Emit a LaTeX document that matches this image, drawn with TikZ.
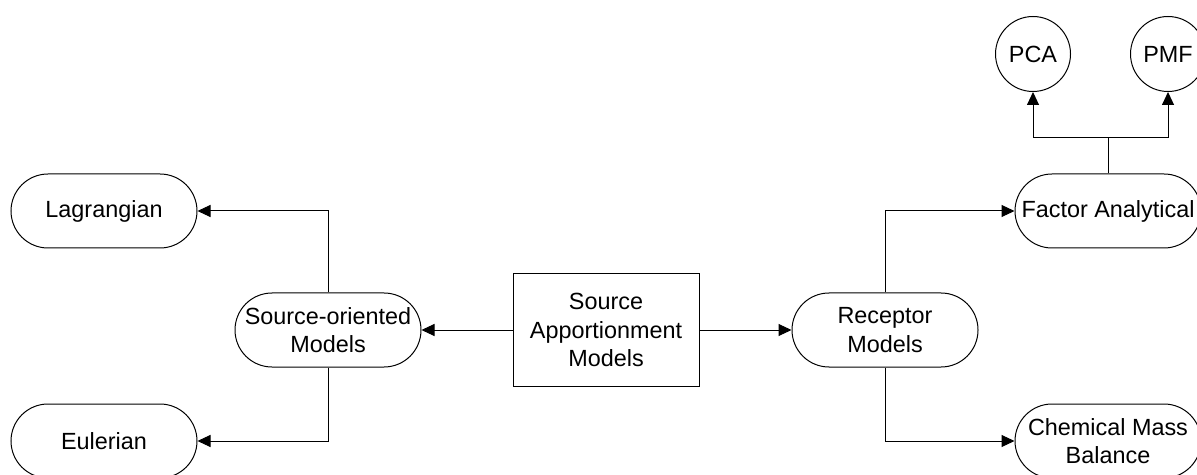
\documentclass[tikz,border=0pt]{standalone}
\usepackage{fontspec}
\setmainfont{Liberation Sans}
\usetikzlibrary{arrows.meta}

\begin{document}
\begin{tikzpicture}[x=0.5pt,y=-0.5pt,line width=0.5pt,
    font=\fontsize{11.7}{14.2}\selectfont,
    pill/.style={draw,rounded corners=18.5pt,minimum width=93pt,minimum height=37pt,inner sep=1pt,align=center},
    method/.style={draw,circle,minimum size=37.5pt,inner sep=0pt},
    arr/.style={-{Triangle[length=6.5pt,width=6pt]}}]
  \useasboundingbox (0,0) rectangle (1197,475);
  % centre box
  \node[draw,minimum width=93pt,minimum height=56pt,align=center] (sam) at (606,330) {Source\\Apportionment\\Models};
  % source side
  \node[pill] (som) at (328,330) {Source-oriented\\Models};
  \node[pill] (lag) at (104,211) {Lagrangian};
  \node[pill] (eul) at (104,441) {Eulerian};
  % receptor side
  \node[pill] (rec) at (885,330) {Receptor\\Models};
  \node[pill] (fa) at (1108,211) {Factor Analytical};
  \node[pill] (cmb) at (1108,441) {Chemical Mass\\Balance};
  \node[method] (pca) at (1033,54) {PCA};
  \node[method] (pmf) at (1168,54) {PMF};
  \coordinate (fork) at (1108,138);

  \draw[arr] (sam.west) -- (som.east);
  \draw[arr] (sam.east) -- (rec.west);
  \draw[arr] (som.north) |- (lag.east);
  \draw[arr] (som.south) |- (eul.east);
  \draw[arr] (rec.north) |- (fa.west);
  \draw[arr] (rec.south) |- (cmb.west);
  \draw (fa.north) -- (fork);
  \draw[arr] (fork) -| (pca.south);
  \draw[arr] (fork) -| (pmf.south);
\end{tikzpicture}
\end{document}
